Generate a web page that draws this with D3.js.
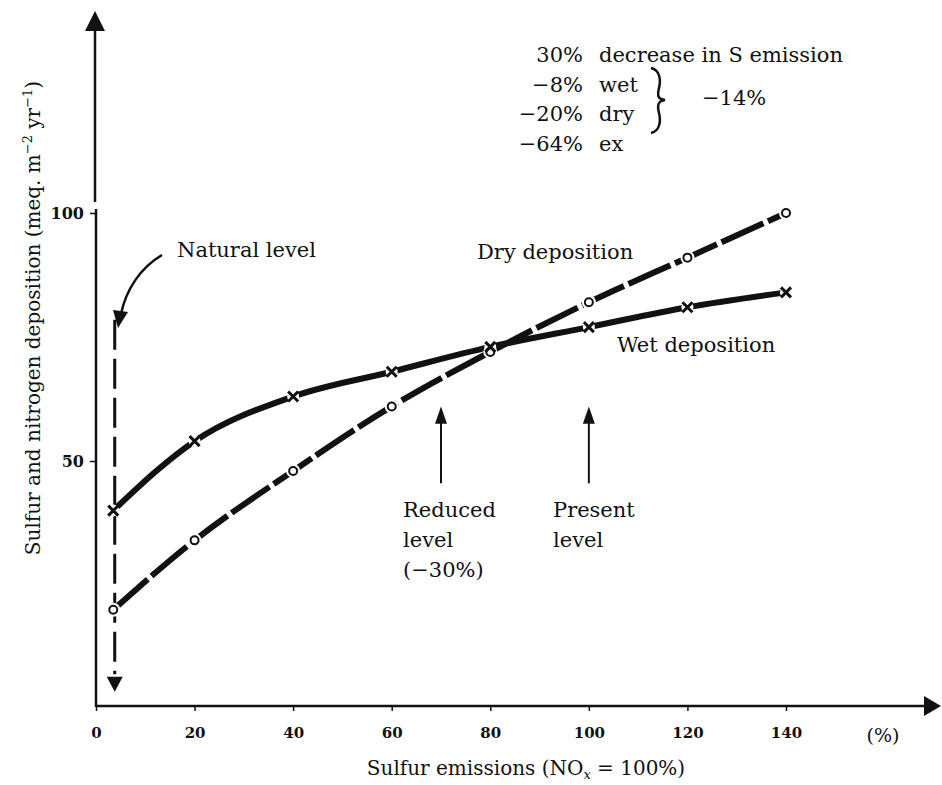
<!DOCTYPE html>
<html>
<head>
<meta charset="utf-8">
<script src="https://cdn.jsdelivr.net/npm/d3@7"></script>
<style>
  body { margin: 0; background: #fff; }
  svg { display: block; }
  text { font-family: "DejaVu Serif", serif; fill: #111; }
  .tick text { font-weight: bold; font-size: 15px; }
</style>
</head>
<body>
<svg id="chart" width="942" height="785"></svg>
<script>
// data
const xTicks = [0, 20, 40, 60, 80, 100, 120, 140];
const yTicks = [50, 100];
const emissions = [3.5, 20, 40, 60, 80, 100, 120, 140];
const wetDep = [40, 54, 63, 68, 73, 77, 81, 84];
const dryDep = [20, 34, 48, 61, 72, 82, 91, 100];
const naturalLevel = 3.8;
const reducedLevel = 70;
const presentLevel = 100;

const svg = d3.select("#chart");
const x = d3.scaleLinear().domain([0, 140]).range([96, 786]);
const y = d3.scaleLinear().domain([0, 100]).range([709, 213]);
const axisY = 706;

/// x axis ///
const gx = svg.append("g")
    .attr("transform", `translate(0, ${axisY})`)
    .call(d3.axisBottom(x).tickValues(xTicks).tickSize(5).tickPadding(13));
gx.select(".domain").remove();
gx.selectAll(".tick line").attr("stroke", "#111").attr("stroke-width", 1.5);
gx.selectAll(".tick text").attr("dy", "0.9em");

svg.append("line")
    .attr("x1", 96).attr("x2", 926).attr("y1", axisY).attr("y2", axisY)
    .attr("stroke", "#111").attr("stroke-width", 2.5);
svg.append("path")
    .attr("d", `M924,${axisY - 10}L941,${axisY}L924,${axisY + 10}Z`)
    .attr("fill", "#111");
svg.append("text")
    .attr("x", 883).attr("y", 742)
    .attr("text-anchor", "middle")
    .style("font-size", "19px")
    .text("(%)");

/// y axis (broken above 100) ///
const gy = svg.append("g")
    .attr("transform", "translate(96, 0)")
    .call(d3.axisLeft(y).tickValues(yTicks).tickSize(6).tickPadding(6));
gy.select(".domain").remove();
gy.selectAll(".tick line").attr("stroke", "#111").attr("stroke-width", 1.5);
gy.selectAll(".tick text").style("font-size", "16px");

svg.append("line")
    .attr("x1", 96).attr("x2", 96).attr("y1", 209).attr("y2", axisY + 1)
    .attr("stroke", "#111").attr("stroke-width", 2.5);
svg.append("line")
    .attr("x1", 95).attr("x2", 95).attr("y1", 28).attr("y2", 202)
    .attr("stroke", "#111").attr("stroke-width", 2.5);
svg.append("path")
    .attr("d", "M85,31L95,11L105,31Z")
    .attr("fill", "#111");

/// axis titles ///
const yLab = svg.append("text")
    .attr("transform", "translate(40, 318) rotate(-90)")
    .attr("text-anchor", "middle")
    .style("font-size", "20px");
yLab.append("tspan").text("Sulfur and nitrogen deposition (meq. m");
yLab.append("tspan").attr("dy", -8).style("font-size", "13px").text("\u22122");
yLab.append("tspan").attr("dy", 8).text(" yr");
yLab.append("tspan").attr("dy", -8).style("font-size", "13px").text("\u22121");
yLab.append("tspan").attr("dy", 8).text(")");

const xLab = svg.append("text")
    .attr("x", 526).attr("y", 775)
    .attr("text-anchor", "middle")
    .style("font-size", "20px");
xLab.append("tspan").text("Sulfur emissions (NO");
xLab.append("tspan").attr("dy", 4).style("font-size", "13px").style("font-style", "italic").text("x");
xLab.append("tspan").attr("dy", -4).text(" = 100%)");

/// natural level dashed arrow ///
svg.append("line")
    .attr("x1", x(naturalLevel)).attr("x2", x(naturalLevel))
    .attr("y1", y(78.5)).attr("y2", y(7))
    .attr("stroke", "#111").attr("stroke-width", 3)
    .attr("stroke-dasharray", "30,9");
svg.append("path")
    .attr("d", `M${x(naturalLevel) - 8},${y(6.5)}L${x(naturalLevel)},${y(3.5)}L${x(naturalLevel) + 8},${y(6.5)}Z`)
    .attr("fill", "#111");

/// series lines ///
const line = d3.line()
    .x(d => x(d[0]))
    .y(d => y(d[1]))
    .curve(d3.curveMonotoneX);

const wetPts = emissions.map((e, i) => [e, wetDep[i]]);
const dryPts = emissions.map((e, i) => [e, dryDep[i]]);

svg.append("path")
    .datum(dryPts)
    .attr("d", line)
    .attr("fill", "none")
    .attr("stroke", "#111")
    .attr("stroke-width", 6)
    .attr("stroke-dasharray", "46,5");

svg.append("path")
    .datum(wetPts)
    .attr("d", line)
    .attr("fill", "none")
    .attr("stroke", "#111")
    .attr("stroke-width", 6);

// small white gaps round the markers
svg.selectAll(".gapDry")
    .data(dryPts)
    .enter()
    .append("circle")
    .attr("cx", d => x(d[0]))
    .attr("cy", d => y(d[1]))
    .attr("r", 7)
    .attr("fill", "#fff");

svg.selectAll(".gapWet")
    .data(wetPts)
    .enter()
    .append("circle")
    .attr("cx", d => x(d[0]))
    .attr("cy", d => y(d[1]))
    .attr("r", 6)
    .attr("fill", "#fff");

/// markers ///
svg.selectAll(".dryMark")
    .data(dryPts)
    .enter()
    .append("circle")
    .attr("cx", d => x(d[0]))
    .attr("cy", d => y(d[1]))
    .attr("r", 4)
    .attr("fill", "#fff")
    .attr("stroke", "#111")
    .attr("stroke-width", 2);

svg.selectAll(".wetMark")
    .data(wetPts)
    .enter()
    .append("path")
    .attr("d", d => {
        const cx = x(d[0]), cy = y(d[1]), s = 5;
        return `M${cx - s},${cy - s}L${cx + s},${cy + s}M${cx - s},${cy + s}L${cx + s},${cy - s}`;
    })
    .attr("stroke", "#111")
    .attr("stroke-width", 3);

/// level arrows ///
[reducedLevel, presentLevel].forEach(v => {
    svg.append("line")
        .attr("x1", x(v)).attr("x2", x(v))
        .attr("y1", y(45.5)).attr("y2", y(58))
        .attr("stroke", "#111").attr("stroke-width", 2);
    svg.append("path")
        .attr("d", `M${x(v) - 6},${y(57.5)}L${x(v)},${y(61)}L${x(v) + 6},${y(57.5)}Z`)
        .attr("fill", "#111");
});

/// curved arrow to natural level ///
svg.append("path")
    .attr("d", "M162,255 C140,268 126,290 121,314")
    .attr("fill", "none")
    .attr("stroke", "#111")
    .attr("stroke-width", 2.5);
svg.append("path")
    .attr("d", "M113,310 L118,328 L128,312 Z")
    .attr("fill", "#111");

/// annotations ///
const note = (tx, ty, str, anchor) => svg.append("text")
    .attr("x", tx).attr("y", ty)
    .attr("text-anchor", anchor || "start")
    .style("font-size", "21px")
    .text(str);

note(177, 257, "Natural level");
note(477, 259, "Dry deposition");
note(617, 352, "Wet deposition");
note(403, 517, "Reduced");
note(403, 547, "level");
note(403, 577, "(\u221230%)");
note(553, 517, "Present");
note(553, 547, "level");

const pct = ["30%", "\u22128%", "\u221220%", "\u221264%"];
const word = ["decrease in S emission", "wet", "dry", "ex"];
pct.forEach((p, i) => {
    note(583, 62 + i * 29.5, p, "end");
    note(599, 62 + i * 29.5, word[i]);
});
note(702, 105, "\u221214%");

// brace
svg.append("path")
    .attr("d", "M651,68 C660,70 661,80 659,88 C657,96 658,99 665,100 C658,101 657,105 659,113 C661,121 660,131 651,133")
    .attr("fill", "none")
    .attr("stroke", "#111")
    .attr("stroke-width", 2.5);
</script>
</body>
</html>
